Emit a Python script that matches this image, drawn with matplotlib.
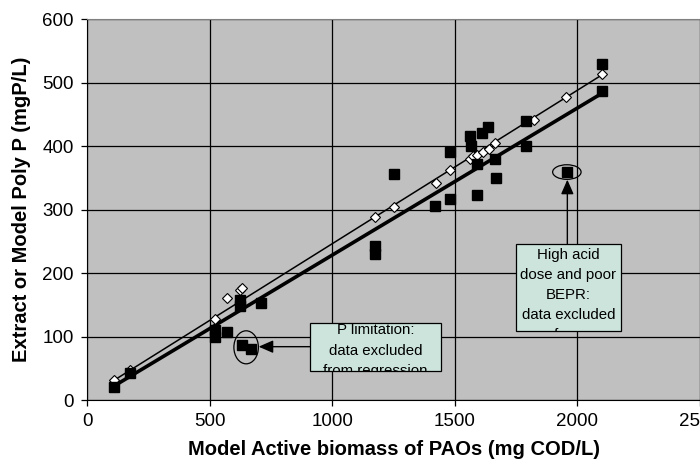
import matplotlib
matplotlib.use('Agg')
import matplotlib.pyplot as plt
from matplotlib.patches import Ellipse, Rectangle
from matplotlib.transforms import Bbox, TransformedBbox

plt.rcParams['font.family'] = ['Liberation Sans', 'DejaVu Sans']

# ---- data ----
extract_x = [110, 175, 520, 520, 570, 625, 625, 708, 1175, 1175, 1253, 1420,
             1480, 1480, 1560, 1567, 1590, 1592, 1612, 1635, 1665, 1667,
             1790, 1790, 2100, 2100]
extract_y = [20, 42, 110, 100, 107, 157, 148, 153, 243, 230, 356, 305,
             390, 317, 415, 400, 323, 371, 420, 430, 380, 349,
             440, 400, 529, 486]
excluded_x = [632, 668, 1957]
excluded_y = [87, 81, 359]
model_x = [110, 175, 520, 570, 624, 632, 1175, 1253, 1422, 1480, 1561, 1575,
           1590, 1617, 1638, 1665, 1822, 1955, 2101]
model_y = [31, 48, 127, 160, 174, 177, 288, 304, 341, 363, 379, 384,
           386, 391, 396, 404, 441, 477, 513]
trend_x = [110, 2100]
trend_extract = [22, 483]
trend_model = [31, 512]
x_ticks = [0, 500, 1000, 1500, 2000, 2500]
y_ticks = [0, 100, 200, 300, 400, 500, 600]

x_label = 'Model Active biomass of PAOs (mg COD/L)'
y_label = 'Extract or Model Poly P (mgP/L)'
note_p = 'P limitation:\ndata excluded\nfrom regression'
note_acid = 'High acid\ndose and poor\nBEPR:\ndata excluded\nfrom\nregression'

box_color = '#CCE4DC'

fig = plt.figure(figsize=(7, 4.73), dpi=100)
ax = fig.add_axes([0.1243, 0.1543, 0.8757, 0.8055])
ax.set_facecolor('#C0C0C0')
ax.set_xlim(0, 2500)
ax.set_ylim(0, 600)
ax.set_xticks(x_ticks)
ax.set_yticks(y_ticks)
ax.grid(True, color='black', lw=0.9)
ax.set_axisbelow(True)
ax.tick_params(direction='out', length=4.5, width=0.9, labelsize=13.5, pad=5)
for s in ['top', 'right']:
    ax.spines[s].set_color('#808080')
for s in ['left', 'bottom']:
    ax.spines[s].set_color('black')

ax.plot(trend_x, trend_model, color='black', lw=1.1, zorder=3)
ax.plot(trend_x, trend_extract, color='black', lw=2.6, zorder=3)
ax.plot(model_x, model_y, ls='none', marker='D', ms=5.4, mfc='white',
        mec='black', mew=0.8, zorder=4)
ax.plot(extract_x, extract_y, ls='none', marker='s', ms=6.8, mfc='black',
        mec='black', zorder=5)
ax.plot(excluded_x, excluded_y, ls='none', marker='s', ms=6.8, mfc='black',
        mec='black', zorder=5)

ax.set_xlabel(x_label, fontsize=14.5, fontweight='bold', labelpad=7)
ax.set_ylabel(y_label, fontsize=14.5, fontweight='bold', labelpad=8)

# ellipses around excluded data
ax.add_patch(Ellipse((649, 83), 100, 52, fill=False, ec='black', lw=0.9, zorder=6))
ax.add_patch(Ellipse((1957, 359), 116, 23, fill=False, ec='black', lw=0.9, zorder=6))

arrow_style = '-|>,head_length=0.8,head_width=0.35'
ax.annotate('', xy=(700, 84), xytext=(909, 84),
            arrowprops=dict(arrowstyle=arrow_style, color='black', lw=1,
                            mutation_scale=11, shrinkA=0, shrinkB=0), zorder=6)
ax.annotate('', xy=(1959, 347), xytext=(1959, 245),
            arrowprops=dict(arrowstyle=arrow_style, color='black', lw=1,
                            mutation_scale=11, shrinkA=0, shrinkB=0), zorder=6)


def note_box(x0, y0, x1, y1, text, ytext):
    rect = Rectangle((x0, y0), x1 - x0, y1 - y0, facecolor=box_color,
                     edgecolor='black', lw=0.9, zorder=7)
    ax.add_patch(rect)
    t = ax.text((x0 + x1) / 2, ytext, text, ha='center', va='top',
                fontsize=10.8, linespacing=1.56, zorder=8)
    t.set_clip_on(True)
    t.set_clip_box(TransformedBbox(Bbox([[x0, y0], [x1, y1]]), ax.transData))


note_box(909, 45, 1445, 122, note_p, 120.5)
note_box(1750, 108, 2176, 245, note_acid, 240)

fig.savefig('out.png', dpi=100)
